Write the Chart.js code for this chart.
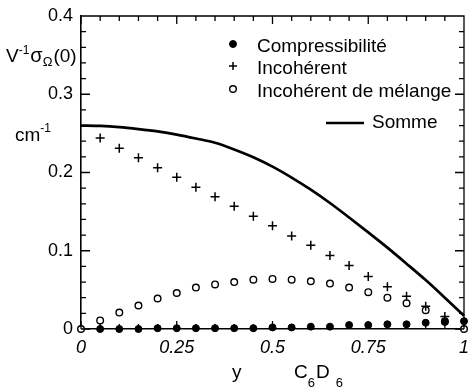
<!DOCTYPE html>
<html>
<head>
<meta charset="utf-8">
<script src="https://cdn.jsdelivr.net/npm/chart.js@4.4.1/dist/chart.umd.min.js"></script>
<style>
    body { margin: 0; background: #fff; }
    canvas { display: block; }
</style>
</head>
<body>
<canvas id="graphe" width="470" height="389"></canvas>
<script>
// Données (fraction y de C6D6)
const fractions = [0, 0.05, 0.1, 0.15, 0.2, 0.25, 0.3, 0.35, 0.4, 0.45, 0.5,
                   0.55, 0.6, 0.65, 0.7, 0.75, 0.8, 0.85, 0.9, 0.95, 1];
const compressibilite = [null, 0, 0, 0, 0.001, 0.001, 0.001, 0.001, 0.001, 0.001, 0.002,
                         0.002, 0.003, 0.003, 0.005, 0.005, 0.006, 0.006, 0.008, 0.009, 0.010];
const incoherent = [null, 0.244, 0.231, 0.219, 0.206, 0.194, 0.181, 0.169, 0.157, 0.144, 0.132,
                    0.119, 0.107, 0.094, 0.081, 0.067, 0.054, 0.042, 0.029, 0.016, null];
const melange = [0, 0.011, 0.021, 0.030, 0.039, 0.046, 0.053, 0.057, 0.060, 0.063, 0.064,
                 0.063, 0.061, 0.058, 0.053, 0.047, 0.040, 0.033, 0.024, 0.010, 0];
const somme = [0.260, 0.2595, 0.258, 0.2555, 0.2525, 0.2485, 0.2435, 0.238, 0.2295, 0.2195, 0.2075,
               0.1935, 0.178, 0.161, 0.1425, 0.1235, 0.104, 0.0835, 0.0625, 0.040, 0.017];

const xTicks = ['0', '0.25', '0.5', '0.75', '1'];
const yTicks = ['0', '0.1', '0.2', '0.3', '0.4'];

const police = '"Liberation Sans", Arial, sans-serif';

// transforme une série en points {x, y}
function points(serie) {
    return fractions.map((x, i) => ({ x: x, y: serie[i] }));
}

// petites graduations vers l'intérieur sur les quatre côtés
const graduations = {
    id: 'graduations',
    afterDatasetsDraw(chart) {
        const { ctx, chartArea: a, scales: { x, y } } = chart;
        ctx.save();
        ctx.strokeStyle = '#000';
        ctx.lineWidth = 1.3;
        ctx.beginPath();
        // cadre haut et droit
        ctx.moveTo(a.left, a.top);
        ctx.lineTo(a.right, a.top);
        ctx.lineTo(a.right, a.bottom);
        for (let i = 0; i <= 20; i++) {
            const px = x.getPixelForValue(i * 0.05);
            const l = i % 5 === 0 ? 8 : 5;
            ctx.moveTo(px, a.top); ctx.lineTo(px, a.top + l);
            ctx.moveTo(px, a.bottom); ctx.lineTo(px, a.bottom - l);
        }
        for (let i = 0; i <= 20; i++) {
            const py = y.getPixelForValue(i * 0.02);
            const l = i % 5 === 0 ? 9 : 5;
            ctx.moveTo(a.left, py); ctx.lineTo(a.left + l, py);
            ctx.moveTo(a.right, py); ctx.lineTo(a.right - l, py);
        }
        ctx.stroke();
        ctx.restore();
    }
};

// écrit un texte avec exposants / indices
function ecrire(ctx, x, y, morceaux) {
    for (const m of morceaux) {
        ctx.font = (m.taille || 19) + 'px ' + police;
        ctx.fillText(m.t, x, y + (m.dy || 0));
        x += ctx.measureText(m.t).width + (m.apres || 0);
    }
}

// titres des axes et légende
const textes = {
    id: 'textes',
    afterDraw(chart) {
        const ctx = chart.ctx;
        ctx.save();
        ctx.fillStyle = '#000';
        ctx.textBaseline = 'alphabetic';
        ctx.textAlign = 'left';
        ecrire(ctx, 6, 62, [
            { t: 'V' }, { t: '-1', taille: 12, dy: -8, apres: 1 },
            { t: 'σ', taille: 20 }, { t: 'Ω', taille: 13, dy: 4, apres: 1 }, { t: '(0)' }
        ]);
        ecrire(ctx, 15, 141, [{ t: 'cm' }, { t: '-1', taille: 12, dy: -9 }]);
        ecrire(ctx, 232, 378, [{ t: 'y' }]);
        ecrire(ctx, 294, 378, [
            { t: 'C' }, { t: '6', taille: 13, dy: 9, apres: 1 }, { t: 'D', apres: 6 }, { t: '6', taille: 13, dy: 9 }
        ]);

        // légende
        const ds = chart.data.datasets;
        const lignes = [52, 74, 97, 128];
        ctx.font = '19px ' + police;
        for (let i = 0; i < 3; i++) {
            const d = ds[i];
            const my = lignes[i] - 8;
            ctx.beginPath();
            ctx.lineWidth = d.borderWidth || 1;
            ctx.strokeStyle = '#000';
            if (d.pointStyle === 'cross') {
                ctx.moveTo(233 - 4, my); ctx.lineTo(233 + 4, my);
                ctx.moveTo(233, my - 4); ctx.lineTo(233, my + 4);
                ctx.stroke();
            } else {
                ctx.arc(233, my, d.pointRadius, 0, Math.PI * 2);
                ctx.fillStyle = d.backgroundColor;
                ctx.fill();
                ctx.stroke();
            }
            ctx.fillStyle = '#000';
            ctx.fillText(d.label, 257, lignes[i]);
        }
        ctx.beginPath();
        ctx.lineWidth = ds[3].borderWidth;
        ctx.moveTo(326, 123);
        ctx.lineTo(364, 123);
        ctx.stroke();
        ctx.fillText(ds[3].label, 372, 128);
        ctx.restore();
    }
};

const chart = new Chart(document.getElementById('graphe').getContext('2d'), {
    type: 'scatter',
    data: {
        datasets: [{
            label: 'Compressibilité',
            data: points(compressibilite),
            pointStyle: 'circle',
            pointRadius: 3.5,
            backgroundColor: '#000',
            borderColor: '#000',
            borderWidth: 1,
            clip: false
        }, {
            label: 'Incohérent',
            data: points(incoherent),
            pointStyle: 'cross',
            pointRadius: 4.5,
            borderColor: '#000',
            borderWidth: 1.5,
            clip: false
        }, {
            label: 'Incohérent de mélange',
            data: points(melange),
            pointStyle: 'circle',
            pointRadius: 3.3,
            backgroundColor: '#fff',
            borderColor: '#000',
            borderWidth: 1.4,
            clip: false
        }, {
            label: 'Somme',
            data: points(somme),
            showLine: true,
            pointRadius: 0,
            borderColor: '#000',
            borderWidth: 2.7,
            cubicInterpolationMode: 'monotone',
            clip: false
        }]
    },
    options: {
        responsive: false,
        animation: false,
        events: [],
        layout: { padding: { top: 16, right: 2, left: 0, bottom: 0 } },
        plugins: { legend: { display: false }, tooltip: { enabled: false } },
        scales: {
            x: {
                type: 'linear', min: 0, max: 1,
                grid: { display: false, drawTicks: false },
                border: { display: true, color: '#000', width: 1.6 },
                ticks: {
                    stepSize: 0.25, color: '#000', padding: 8,
                    font: { family: police, size: 18, style: 'italic' },
                    callback: (v, i) => xTicks[i]
                },
                afterFit(s) { s.height = 60; s.paddingLeft = 0; s.paddingRight = 0; }
            },
            y: {
                type: 'linear', min: 0, max: 0.4,
                grid: { display: false, drawTicks: false },
                border: { display: true, color: '#000', width: 1.6 },
                ticks: {
                    stepSize: 0.1, color: '#000', padding: 8,
                    font: { family: police, size: 18 },
                    callback: (v, i) => yTicks[i]
                },
                afterFit(s) { s.width = 81; s.paddingTop = 0; s.paddingBottom = 0; }
            }
        }
    },
    plugins: [graduations, textes]
});
</script>
</body>
</html>
